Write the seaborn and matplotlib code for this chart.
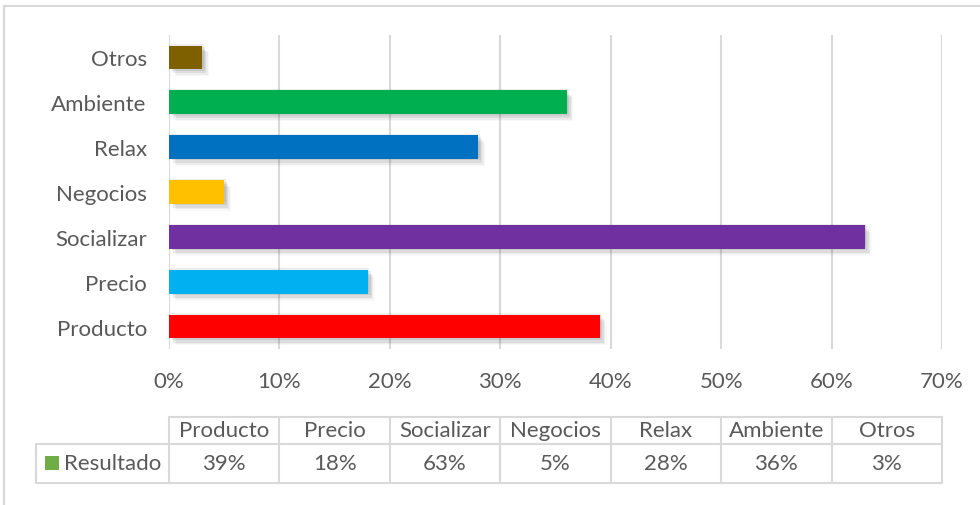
import matplotlib
matplotlib.use("Agg")
import matplotlib.pyplot as plt
import matplotlib.patheffects as pe
from matplotlib.patches import Rectangle
from matplotlib.lines import Line2D
from matplotlib.ticker import FuncFormatter, MultipleLocator
import seaborn as sns
import pandas as pd

# Survey results (percent) in table order
categorias = ["Producto", "Precio", "Socializar", "Negocios", "Relax", "Ambiente", "Otros"]
valores = [39, 18, 63, 5, 28, 36, 3]
colores = ["#FF0000", "#00B0F0", "#7030A0", "#FFC000", "#0070C0", "#00B050", "#7F6000"]
serie = "Resultado"

sns.set_theme(style="white")
plt.rcParams["font.family"] = ["Lato", "DejaVu Sans"]

TXT = "#595959"
GRID = "#D9D9D9"
FS = 16
W, H = 980, 506

fig = plt.figure(figsize=(W / 100, H / 100), dpi=100)

def fx(px):
    return px / W

def fy(py):
    return 1 - py / H

x0, x1, y_top, y_bot = 169, 942, 36, 350
ax = fig.add_axes([fx(x0), fy(y_bot), fx(x1) - fx(x0), fy(y_top) - fy(y_bot)])

df = pd.DataFrame({"categoria": categorias, "valor": valores})
orden = categorias[::-1]
pal = dict(zip(categorias, colores))
sns.barplot(data=df, y="categoria", x="valor", order=orden, hue="categoria",
            palette=pal, legend=False, width=0.53, ax=ax, saturation=1)

# Soft drop shadow built from a few stacked offset layers
sombra = [pe.SimplePatchShadow(offset=(dx, -dy), shadow_rgbFace="#555555", alpha=a)
          for dx, dy, a in [(1, -1, 0.10), (2, 1, 0.12), (3, 3, 0.10), (4, 4, 0.07), (5, 5, 0.04)]]
for p in ax.patches:
    p.set_linewidth(0)
    p.set_path_effects(sombra + [pe.Normal()])

ax.set_xlim(0, 70)
ax.set_ylim(len(orden) - 0.5, -0.5)
ax.xaxis.set_major_locator(MultipleLocator(10))
ax.xaxis.set_major_formatter(FuncFormatter(lambda v, _: f"{v:.0f}%"))
ax.grid(axis="x", color=GRID, linewidth=1.5)
ax.grid(axis="y", visible=False)
ax.set_axisbelow(True)
for s in ax.spines.values():
    s.set_visible(False)
ax.tick_params(axis="both", length=0, labelsize=FS, colors=TXT)
ax.tick_params(axis="x", pad=16)
ax.tick_params(axis="y", pad=16)
ax.set_xlabel("")
ax.set_ylabel("")

# Outer chart frame
fig.add_artist(Rectangle((fx(4), fy(520)), fx(990) - fx(4), fy(7) - fy(520),
                         transform=fig.transFigure, fill=False, edgecolor=GRID, linewidth=1.5))

# Data table under the axis, one column per 10% step
col_w = (x1 - x0) / len(categorias)
h_top, h_mid, h_bot = 418, 445, 484
leg_left = 36

def hline(xa, xb, yy):
    fig.add_artist(Line2D([fx(xa), fx(xb)], [fy(yy), fy(yy)], transform=fig.transFigure,
                          color=GRID, linewidth=1.5))

def vline(xx, ya, yb):
    fig.add_artist(Line2D([fx(xx), fx(xx)], [fy(ya), fy(yb)], transform=fig.transFigure,
                          color=GRID, linewidth=1.5))

hline(x0, x1, h_top)
hline(leg_left, x1, h_mid)
hline(leg_left, x1, h_bot)
vline(leg_left, h_mid, h_bot)
for i in range(len(categorias) + 1):
    vline(x0 + i * col_w, h_top, h_bot)

for i, (c, v) in enumerate(zip(categorias, valores)):
    cx = x0 + (i + 0.5) * col_w
    fig.text(fx(cx), fy((h_top + h_mid) / 2), c, ha="center", va="center",
             fontsize=FS, color=TXT)
    fig.text(fx(cx), fy((h_mid + h_bot) / 2), f"{v}%", ha="center", va="center",
             fontsize=FS, color=TXT)

fig.add_artist(Rectangle((fx(45), fy(471)), fx(59) - fx(45), fy(457) - fy(471),
                         transform=fig.transFigure, facecolor="#70AD47", edgecolor="none"))
fig.text(fx(64), fy((h_mid + h_bot) / 2), serie, ha="left", va="center",
         fontsize=FS, color=TXT)

fig.savefig("out.png", dpi=100)
